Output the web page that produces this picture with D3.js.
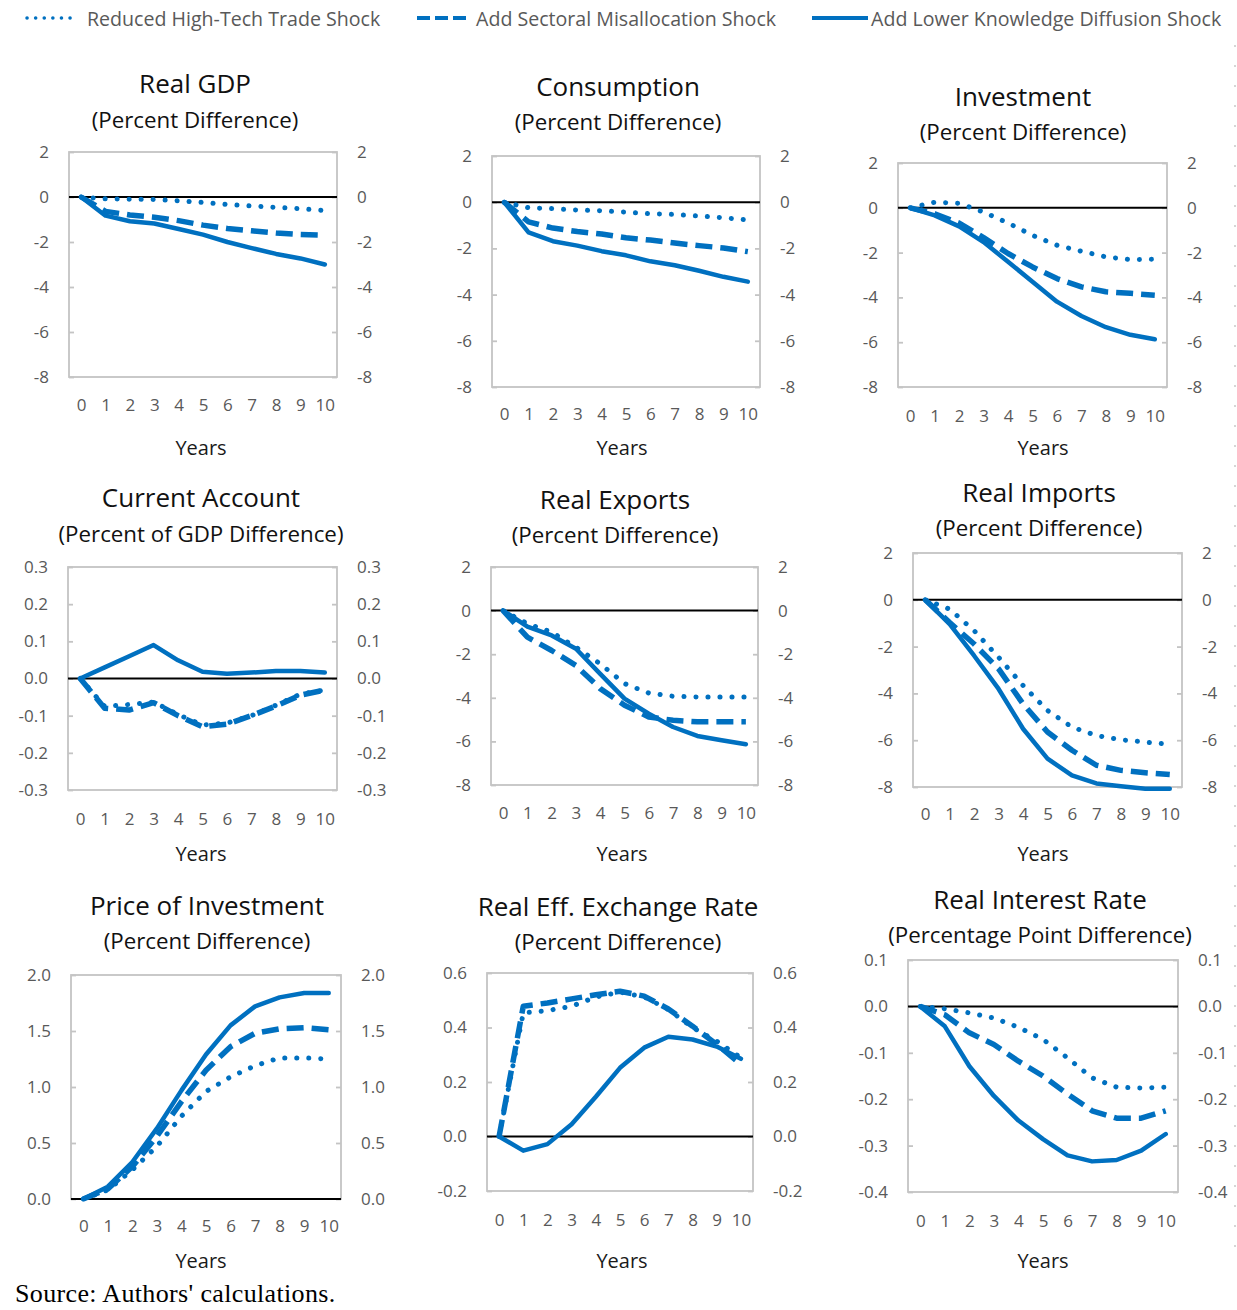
<!DOCTYPE html>
<html>
<head>
<meta charset="utf-8">
<title>Shock scenarios</title>
<script src="https://cdn.jsdelivr.net/npm/d3@7"></script>
<style>
  body { margin: 0; background: #fff; }
  svg { display: block; font-family: "Open Sans", "Noto Sans", sans-serif; }
</style>
</head>
<body>
<svg id="chart" width="1237" height="1310"></svg>
<script>
// x axis categories
var years = [0, 1, 2, 3, 4, 5, 6, 7, 8, 9, 10];
var seriesNames = ["Reduced High-Tech Trade Shock", "Add Sectoral Misallocation Shock", "Add Lower Knowledge Diffusion Shock"];

// Real GDP
var gdpTrade     = [0, -0.08, -0.1, -0.11, -0.17, -0.24, -0.33, -0.4, -0.46, -0.52, -0.6];
var gdpMisalloc  = [0, -0.64, -0.8, -0.9, -1.05, -1.25, -1.4, -1.5, -1.6, -1.67, -1.7];
var gdpDiffusion = [0, -0.83, -1.08, -1.18, -1.42, -1.67, -2.0, -2.27, -2.53, -2.73, -3.0];
// Consumption
var consTrade     = [0, -0.24, -0.28, -0.34, -0.37, -0.43, -0.5, -0.53, -0.6, -0.67, -0.77];
var consMisalloc  = [0, -0.85, -1.12, -1.27, -1.38, -1.54, -1.64, -1.77, -1.88, -1.98, -2.14];
var consDiffusion = [0, -1.31, -1.69, -1.88, -2.12, -2.3, -2.56, -2.73, -2.97, -3.23, -3.44];
// Investment
var invTrade     = [0, 0.25, 0.2, -0.19, -0.68, -1.23, -1.67, -1.94, -2.19, -2.31, -2.3];
var invMisalloc  = [0, -0.27, -0.68, -1.33, -2.04, -2.64, -3.16, -3.53, -3.75, -3.82, -3.9];
var invDiffusion = [0, -0.34, -0.83, -1.53, -2.41, -3.3, -4.19, -4.83, -5.33, -5.67, -5.87];
// Current account
var caTrade     = [0, -0.075, -0.07, -0.063, -0.097, -0.125, -0.12, -0.1, -0.072, -0.042, -0.031];
var caMisalloc  = [0, -0.08, -0.085, -0.065, -0.1, -0.13, -0.123, -0.1, -0.074, -0.045, -0.031];
var caDiffusion = [0, 0.03, 0.06, 0.09, 0.049, 0.018, 0.013, 0.016, 0.02, 0.02, 0.016];
// Real exports
var expTrade     = [0, -0.6, -0.99, -1.68, -2.44, -3.35, -3.78, -3.93, -3.96, -3.96, -3.96];
var expMisalloc  = [0, -1.22, -1.83, -2.52, -3.58, -4.34, -4.88, -5.03, -5.1, -5.1, -5.1];
var expDiffusion = [0, -0.73, -1.14, -1.75, -2.9, -4.04, -4.73, -5.34, -5.75, -5.95, -6.13];
// Real imports
var impTrade     = [0, -0.4, -1.32, -2.46, -3.66, -4.73, -5.44, -5.8, -5.98, -6.08, -6.18];
var impMisalloc  = [0, -0.97, -1.89, -2.95, -4.45, -5.65, -6.43, -7.07, -7.29, -7.39, -7.47];
var impDiffusion = [0, -1.04, -2.39, -3.81, -5.51, -6.79, -7.5, -7.85, -7.97, -8.07, -8.07];
// Price of investment
var pinvTrade     = [0, 0.08, 0.26, 0.47, 0.74, 0.96, 1.09, 1.19, 1.26, 1.26, 1.25];
var pinvMisalloc  = [0, 0.09, 0.29, 0.56, 0.87, 1.15, 1.36, 1.48, 1.52, 1.53, 1.51];
var pinvDiffusion = [0, 0.11, 0.33, 0.63, 0.97, 1.29, 1.55, 1.72, 1.8, 1.84, 1.84];
// Real effective exchange rate
var reerTrade     = [0, 0.454, 0.462, 0.478, 0.512, 0.53, 0.512, 0.466, 0.4, 0.35, 0.289];
var reerMisalloc  = [0, 0.478, 0.49, 0.505, 0.52, 0.533, 0.515, 0.468, 0.405, 0.338, 0.265];
var reerDiffusion = [0, -0.052, -0.028, 0.045, 0.146, 0.252, 0.326, 0.366, 0.356, 0.33, 0.285];
// Real interest rate
var rirTrade     = [0, -0.005, -0.014, -0.025, -0.045, -0.071, -0.111, -0.154, -0.174, -0.176, -0.174];
var rirMisalloc  = [0, -0.018, -0.057, -0.082, -0.118, -0.15, -0.189, -0.225, -0.241, -0.241, -0.225];
var rirDiffusion = [0, -0.043, -0.129, -0.193, -0.246, -0.286, -0.321, -0.334, -0.331, -0.311, -0.275];

// tick labels
var ticksPct  = [-8, -6, -4, -2, 0, 2];
var ticksCA   = [-0.3, -0.2, -0.1, 0, 0.1, 0.2, 0.3];
var ticksPInv = [0, 0.5, 1, 1.5, 2];
var ticksREER = [-0.2, 0, 0.2, 0.4, 0.6];
var ticksRIR  = [-0.4, -0.3, -0.2, -0.1, 0, 0.1];

var panels = [
  {title: "Real GDP", sub: "(Percent Difference)", series: [gdpTrade, gdpMisalloc, gdpDiffusion], ticks: ticksPct, dec: 0},
  {title: "Consumption", sub: "(Percent Difference)", series: [consTrade, consMisalloc, consDiffusion], ticks: ticksPct, dec: 0},
  {title: "Investment", sub: "(Percent Difference)", series: [invTrade, invMisalloc, invDiffusion], ticks: ticksPct, dec: 0},
  {title: "Current Account", sub: "(Percent of GDP Difference)", series: [caTrade, caMisalloc, caDiffusion], ticks: ticksCA, dec: 1},
  {title: "Real Exports", sub: "(Percent Difference)", series: [expTrade, expMisalloc, expDiffusion], ticks: ticksPct, dec: 0},
  {title: "Real Imports", sub: "(Percent Difference)", series: [impTrade, impMisalloc, impDiffusion], ticks: ticksPct, dec: 0},
  {title: "Price of Investment", sub: "(Percent Difference)", series: [pinvTrade, pinvMisalloc, pinvDiffusion], ticks: ticksPInv, dec: 1},
  {title: "Real Eff. Exchange Rate", sub: "(Percent Difference)", series: [reerTrade, reerMisalloc, reerDiffusion], ticks: ticksREER, dec: 1},
  {title: "Real Interest Rate", sub: "(Percentage Point Difference)", series: [rirTrade, rirMisalloc, rirDiffusion], ticks: ticksRIR, dec: 1}
];

// where each panel sits on the page (plot box, title centre, label rows, "Years" position)
var layout = [
  {l: 69,  r: 337,  t: 152, b: 377,  tx: 195,  ty: 83,  sy: 119, xl: 404,  yx: 201,  yl: 447},
  {l: 492, r: 760,  t: 156, b: 387,  tx: 618,  ty: 86,  sy: 121, xl: 413,  yx: 622,  yl: 447},
  {l: 898, r: 1167, t: 163, b: 387,  tx: 1023, ty: 96,  sy: 131, xl: 415,  yx: 1043, yl: 447},
  {l: 68,  r: 337,  t: 567, b: 790,  tx: 201,  ty: 497, sy: 533, xl: 818,  yx: 201,  yl: 853},
  {l: 491, r: 758,  t: 567, b: 785,  tx: 615,  ty: 499, sy: 534, xl: 812,  yx: 622,  yl: 853},
  {l: 913, r: 1182, t: 553, b: 787,  tx: 1039, ty: 492, sy: 527, xl: 813,  yx: 1043, yl: 853},
  {l: 71,  r: 341,  t: 975, b: 1199, tx: 207,  ty: 905, sy: 940, xl: 1225, yx: 201,  yl: 1260},
  {l: 487, r: 753,  t: 973, b: 1191, tx: 618,  ty: 906, sy: 941, xl: 1219, yx: 622,  yl: 1260},
  {l: 908, r: 1178, t: 960, b: 1192, tx: 1040, ty: 899, sy: 934, xl: 1220, yx: 1043, yl: 1260}
];

var blue = "#0070C0";
var lineStyles = [
  {width: 5,   dash: "0.1,11.9", cap: "round"},
  {width: 5.5, dash: "17,8",     cap: "butt"},
  {width: 4.5, dash: null,       cap: "round"}
];

var svg = d3.select("#chart");

// legend at the top
var legendPos = [{x1: 27, x2: 77, tx: 87}, {x1: 417, x2: 467, tx: 476}, {x1: 812, x2: 868, tx: 871}];
var legendDash = ["0.1,8.5", "13,5", null];
seriesNames.forEach(function(name, i) {
  var p = legendPos[i];
  svg.append("line")
    .attr("x1", p.x1).attr("x2", p.x2)
    .attr("y1", 18).attr("y2", 18)
    .attr("stroke", blue)
    .attr("stroke-width", i == 0 ? 3.5 : 4)
    .attr("stroke-linecap", i == 0 ? "round" : "butt")
    .attr("stroke-dasharray", legendDash[i]);
  svg.append("text")
    .attr("x", p.tx).attr("y", 18)
    .attr("dominant-baseline", "central")
    .attr("font-size", 19.6)
    .attr("fill", "#595959")
    .text(name);
});

function fmt(dec) {
  return function(v) { return v.toFixed(dec); };
}

panels.forEach(function(p, i) {
  var box = layout[i];
  var g = svg.append("g");

  var x = d3.scalePoint().domain(years).range([box.l, box.r]).padding(0.5);
  var y = d3.scaleLinear().domain([p.ticks[0], p.ticks[p.ticks.length - 1]]).range([box.b, box.t]);

  // titles
  g.append("text")
    .attr("x", box.tx).attr("y", box.ty)
    .attr("text-anchor", "middle").attr("dominant-baseline", "central")
    .attr("font-size", 26).attr("fill", "#111")
    .text(p.title);
  g.append("text")
    .attr("x", box.tx).attr("y", box.sy)
    .attr("text-anchor", "middle").attr("dominant-baseline", "central")
    .attr("font-size", 22.3).attr("fill", "#111")
    .text(p.sub);

  // plot frame
  g.append("rect")
    .attr("x", box.l).attr("y", box.t)
    .attr("width", box.r - box.l).attr("height", box.b - box.t)
    .attr("fill", "none").attr("stroke", "#c4c4c4").attr("stroke-width", 1.8);

  // left and right value axes, ticks pointing inwards
  var left = g.append("g")
    .attr("transform", "translate(" + box.l + ",0)")
    .call(d3.axisLeft(y).tickValues(p.ticks).tickFormat(fmt(p.dec)).tickSize(-5).tickPadding(20));
  var right = g.append("g")
    .attr("transform", "translate(" + box.r + ",0)")
    .call(d3.axisRight(y).tickValues(p.ticks).tickFormat(fmt(p.dec)).tickSize(-5).tickPadding(20));
  [left, right].forEach(function(ax) {
    ax.select(".domain").remove();
    ax.selectAll(".tick line").attr("stroke", "#c4c4c4").attr("stroke-width", 1.8);
    ax.selectAll(".tick text")
      .attr("font-size", 17).attr("fill", "#595959")
      .attr("font-family", "Open Sans, Noto Sans, sans-serif");
  });

  // year labels
  var xa = g.append("g")
    .attr("transform", "translate(0," + box.xl + ")")
    .call(d3.axisBottom(x).tickSize(0).tickPadding(0));
  xa.select(".domain").remove();
  xa.selectAll(".tick text")
    .attr("dy", null).attr("dominant-baseline", "central")
    .attr("font-size", 17).attr("fill", "#595959")
    .attr("font-family", "Open Sans, Noto Sans, sans-serif");

  g.append("text")
    .attr("x", box.yx).attr("y", box.yl)
    .attr("text-anchor", "middle").attr("dominant-baseline", "central")
    .attr("font-size", 20).attr("fill", "#1a1a1a")
    .text("Years");

  // zero line
  g.append("line")
    .attr("x1", box.l).attr("x2", box.r)
    .attr("y1", y(0)).attr("y2", y(0))
    .attr("stroke", "#000").attr("stroke-width", 2);

  var line = d3.line()
    .x(function(d, j) { return x(years[j]); })
    .y(function(d) { return y(d); });

  p.series.forEach(function(s, k) {
    var st = lineStyles[k];
    g.append("path")
      .datum(s)
      .attr("d", line)
      .attr("fill", "none")
      .attr("stroke", blue)
      .attr("stroke-width", st.width)
      .attr("stroke-linecap", st.cap)
      .attr("stroke-linejoin", "round")
      .attr("stroke-dasharray", st.dash);
  });
});

// faint dotted edge on the right side of the page
svg.append("line")
  .attr("x1", 1235).attr("x2", 1235)
  .attr("y1", 45).attr("y2", 1250)
  .attr("stroke", "#c8c8c8").attr("stroke-width", 1.5)
  .attr("stroke-dasharray", "2,18");

svg.append("text")
  .attr("x", 15).attr("y", 1302)
  .attr("font-family", "Liberation Serif, Times New Roman, serif")
  .attr("font-size", 26)
  .attr("letter-spacing", 0.35)
  .attr("fill", "#000")
  .text("Source: Authors' calculations.");
</script>
</body>
</html>
